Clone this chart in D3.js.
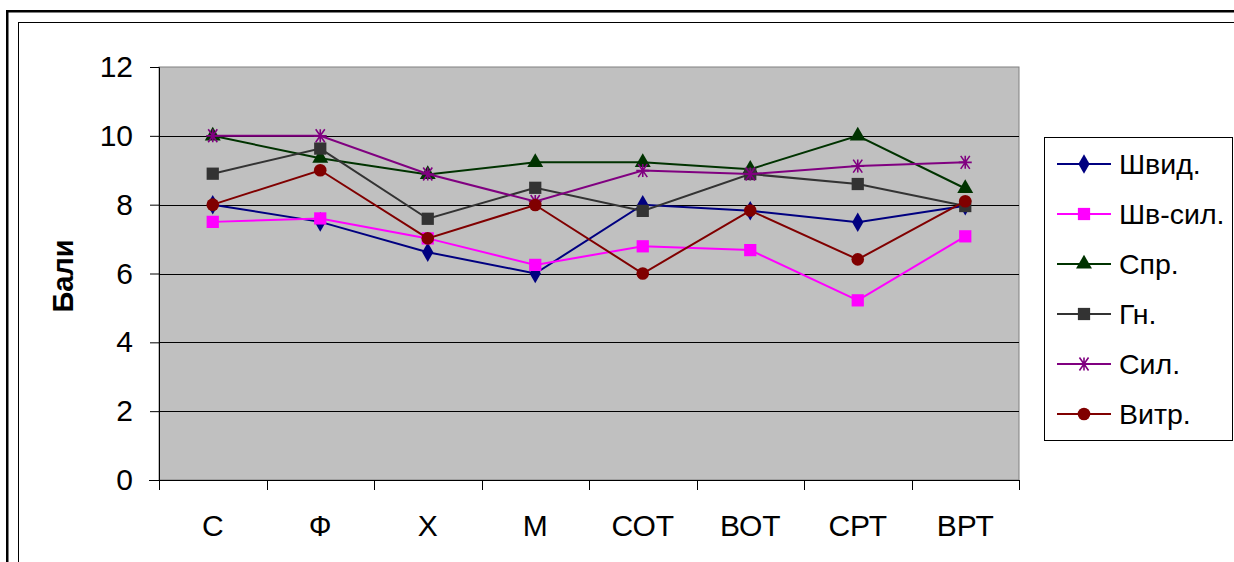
<!DOCTYPE html>
<html><head><meta charset="utf-8">
<script src="https://cdn.jsdelivr.net/npm/d3@7"></script>
<style>body{margin:0;background:#fff;} svg{display:block;font-family:Arial,"Liberation Sans",sans-serif;}</style>
</head><body>
<svg id="c" width="1234" height="562"></svg>
<script>
const categories = ["С","Ф","Х","М","СОТ","ВОТ","СРТ","ВРТ"];
const yTicks = [0,2,4,6,8,10,12];
const seriesNames = ["Швид.","Шв-сил.","Спр.","Гн.","Сил.","Витр."];
const shvyd   = [8, 7.5, 6.62, 6, 8, 7.82, 7.49, 7.97];
const shvSyl  = [7.5, 7.6, 7.02, 6.25, 6.79, 6.68, 5.22, 7.08];
const spr     = [10, 9.35, 8.88, 9.23, 9.23, 9.03, 10, 8.47];
const hn      = [8.9, 9.63, 7.59, 8.49, 7.82, 8.89, 8.6, 7.96];
const syl     = [10, 10, 8.89, 8.09, 8.99, 8.89, 9.12, 9.23];
const vytr    = [8, 9, 7.02, 7.99, 6, 7.83, 6.41, 8.1];
const colors  = ["#000080","#FF00FF","#003300","#333333","#800080","#800000"];
const markers = ["diamond","square","triangle","square","asterisk","circle"];
const seriesValues = [shvyd, shvSyl, spr, hn, syl, vytr];

const svg = d3.select("#c");
// frames
svg.append("rect").attr("x",7.25).attr("y",11.25).attr("width",1240).attr("height",600)
  .attr("fill","none").attr("stroke","#000").attr("stroke-width",2.5);
svg.append("rect").attr("x",18.5).attr("y",22.5).attr("width",1230).attr("height",600)
  .attr("fill","none").attr("stroke","#000").attr("stroke-width",1);

const L=159, R=1019, T=67, B=480;
const x = d3.scaleBand().domain(categories).range([L,R]);
const y = d3.scaleLinear().domain([0,12]).range([B,T]);

const g = svg.append("g");
g.append("rect").attr("x",L).attr("y",T).attr("width",R-L).attr("height",B-T)
  .attr("fill","#C0C0C0").attr("stroke","#808080").attr("stroke-width",1);
// gridlines
g.selectAll("line.grid").data(yTicks.filter(d=>d>0 && d<12)).join("line")
  .attr("x1",L).attr("x2",R).attr("y1",d=>Math.round(y(d))+0.5).attr("y2",d=>Math.round(y(d))+0.5)
  .attr("stroke","#000").attr("stroke-width",1);

// y axis
const yAxis = d3.axisLeft(y).tickValues(yTicks).tickSize(9).tickPadding(17).tickFormat(d3.format("d"));
const ya = svg.append("g").attr("transform",`translate(${L},0)`).call(yAxis);
ya.select(".domain").attr("stroke","#000");
ya.selectAll(".tick line").attr("stroke","#000");
ya.selectAll("text").attr("font-size",30).attr("fill","#000").attr("font-family","Arial, 'Liberation Sans', sans-serif");

// x axis: ticks at category boundaries
const xa = svg.append("g").attr("transform",`translate(0,${B})`);
xa.append("line").attr("x1",L-10).attr("x2",R).attr("y1",0.5).attr("y2",0.5).attr("stroke","#000");
const bounds = categories.map(c=>x(c)).concat([R]);
xa.selectAll("line.t").data(bounds).join("line").attr("class","t")
  .attr("x1",d=>Math.round(d)+0.5).attr("x2",d=>Math.round(d)+0.5).attr("y1",0).attr("y2",10).attr("stroke","#000");
xa.selectAll("text").data(categories).join("text")
  .attr("x",d=>x(d)+x.bandwidth()/2).attr("y",56).attr("text-anchor","middle")
  .attr("font-size",30).attr("fill","#000").text(d=>d);

// axis title
svg.append("text").attr("transform","translate(73,276) rotate(-90)").attr("text-anchor","middle")
  .attr("font-size",29).attr("font-weight","bold").attr("fill","#000").text("Бали");

function drawMarker(sel, type, color){
  if(type==="asterisk"){
    const s=6.5;
    sel.append("path").attr("d",`M${-s},0H${s}M${-s*0.7},${-s}L${s*0.7},${s}M${-s*0.7},${s}L${s*0.7},${-s}M0,${-s}V${s}`)
      .attr("stroke",color).attr("stroke-width",1.6).attr("fill","none");
    return;
  }
  const map={diamond:[d3.symbolDiamond,110],square:[d3.symbolSquare,150],triangle:[d3.symbolTriangle,110],circle:[d3.symbolCircle,125]};
  const [sym,size]=map[type];
  sel.append("path").attr("d",d3.symbol(sym,size)()).attr("fill",color).attr("stroke","none");
}

const line = d3.line().x((d,i)=>x(categories[i])+x.bandwidth()/2).y(d=>y(d));
seriesValues.forEach((vals,si)=>{
  const sg = svg.append("g");
  sg.append("path").datum(vals).attr("d",line).attr("fill","none")
    .attr("stroke",colors[si]).attr("stroke-width",2);
  vals.forEach((v,i)=>{
    const m = sg.append("g").attr("transform",`translate(${x(categories[i])+x.bandwidth()/2},${y(v)})`);
    drawMarker(m, markers[si], colors[si]);
  });
});

// legend
const lg = svg.append("g");
lg.append("rect").attr("x",1044.5).attr("y",137.5).attr("width",188).attr("height",303)
  .attr("fill","#fff").attr("stroke","#000").attr("stroke-width",1);
const ly = d3.scalePoint().domain(seriesNames).range([164,414]);
seriesNames.forEach((n,si)=>{
  const yy = ly(n);
  lg.append("line").attr("x1",1057).attr("x2",1111).attr("y1",yy).attr("y2",yy)
    .attr("stroke",colors[si]).attr("stroke-width",2);
  const m = lg.append("g").attr("transform",`translate(1084,${yy})`);
  drawMarker(m, markers[si], colors[si]);
  lg.append("text").attr("x",1119).attr("y",yy+10).attr("font-size",28.5).attr("fill","#000").text(n);
});
</script>
</body></html>
